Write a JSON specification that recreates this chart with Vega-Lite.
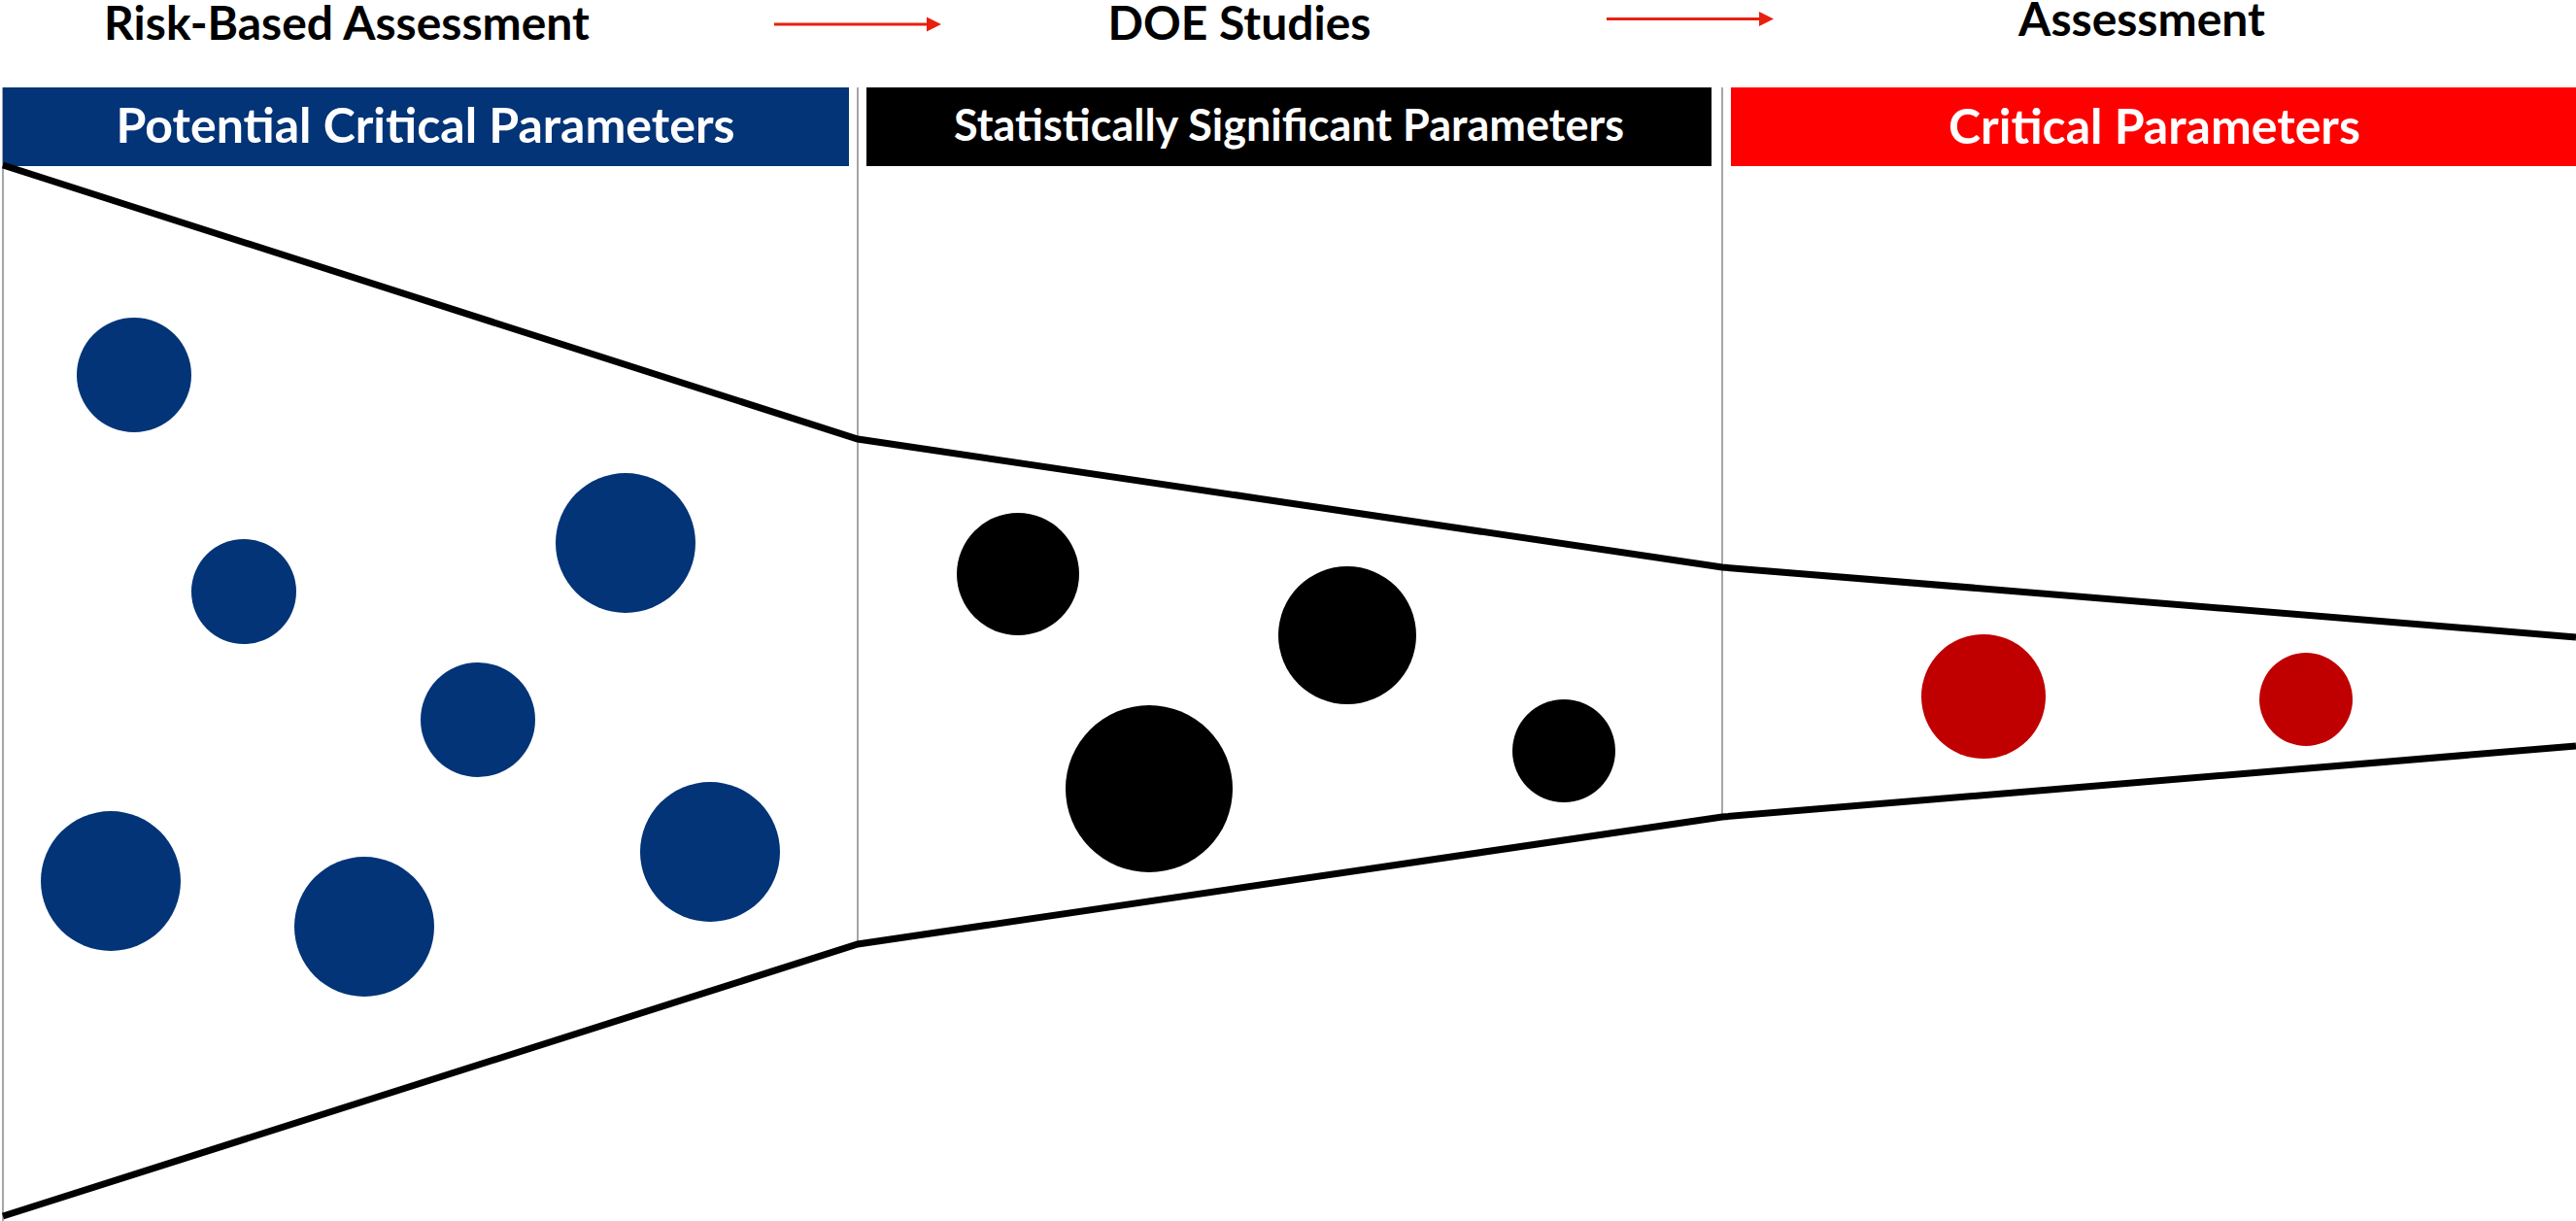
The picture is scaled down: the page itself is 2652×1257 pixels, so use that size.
{
  "$schema": "https://vega.github.io/schema/vega-lite/v6.json",
  "width": 2652,
  "height": 1257,
  "autosize": {"type": "none"},
  "padding": 0,
  "background": "white",
  "config": {"view": {"stroke": null}},
  "datasets": {
    "dividers": [
      {"x": 3, "y0": 90, "y1": 1257},
      {"x": 883, "y0": 90, "y1": 972},
      {"x": 1773, "y0": 90, "y1": 841}
    ],
    "stages": [
      {"stage": "Potential Critical Parameters", "x0": 3, "x1": 874, "cx": 438, "y0": 90, "y1": 171, "ty": 147},
      {"stage": "Statistically Significant Parameters", "x0": 892, "x1": 1762, "cx": 1327, "y0": 90, "y1": 171, "ty": 145},
      {"stage": "Critical Parameters", "x0": 1782, "x1": 2652, "cx": 2218, "y0": 90, "y1": 171, "ty": 148}
    ],
    "funnel": [
      {"edge": "top", "x": 3, "y": 170},
      {"edge": "top", "x": 883, "y": 452},
      {"edge": "top", "x": 1773, "y": 584},
      {"edge": "top", "x": 2652, "y": 656},
      {"edge": "bottom", "x": 3, "y": 1252},
      {"edge": "bottom", "x": 883, "y": 972},
      {"edge": "bottom", "x": 1773, "y": 841},
      {"edge": "bottom", "x": 2652, "y": 768}
    ],
    "parameters": [
      {"group": "potential", "x": 138, "y": 386, "r": 59},
      {"group": "potential", "x": 251, "y": 609, "r": 54},
      {"group": "potential", "x": 644, "y": 559, "r": 72},
      {"group": "potential", "x": 492, "y": 741, "r": 59},
      {"group": "potential", "x": 114, "y": 907, "r": 72},
      {"group": "potential", "x": 375, "y": 954, "r": 72},
      {"group": "potential", "x": 731, "y": 877, "r": 72},
      {"group": "significant", "x": 1048, "y": 591, "r": 63},
      {"group": "significant", "x": 1387, "y": 654, "r": 71},
      {"group": "significant", "x": 1183, "y": 812, "r": 86},
      {"group": "significant", "x": 1610, "y": 773, "r": 53},
      {"group": "critical", "x": 2042, "y": 717, "r": 64},
      {"group": "critical", "x": 2374, "y": 720, "r": 48}
    ],
    "arrows": [
      {"x0": 797, "x1": 956, "head": 961.5, "y": 25},
      {"x0": 1654, "x1": 1812, "head": 1818.5, "y": 19.5}
    ],
    "steps": [
      {"label": "Risk-Based Assessment", "x": 357, "y": 41},
      {"label": "DOE Studies", "x": 1276, "y": 41},
      {"label": "Assessment", "x": 2205, "y": 37}
    ]
  },
  "encoding": {
    "x": {"type": "quantitative", "scale": {"domain": [0, 2652], "nice": false, "zero": false}, "axis": null},
    "y": {"type": "quantitative", "scale": {"domain": [0, 1257], "nice": false, "zero": false, "reverse": true}, "axis": null}
  },
  "layer": [
    {
      "data": {"name": "dividers"},
      "mark": {"type": "rule", "stroke": "#A6A6A6", "strokeWidth": 2},
      "encoding": {
        "x": {"field": "x", "type": "quantitative"},
        "y": {"field": "y0", "type": "quantitative"},
        "y2": {"field": "y1"}
      }
    },
    {
      "data": {"name": "stages"},
      "mark": {"type": "rect"},
      "encoding": {
        "x": {"field": "x0", "type": "quantitative"},
        "x2": {"field": "x1"},
        "y": {"field": "y0", "type": "quantitative"},
        "y2": {"field": "y1"},
        "color": {
          "field": "stage",
          "type": "nominal",
          "scale": {
            "domain": ["Potential Critical Parameters", "Statistically Significant Parameters", "Critical Parameters"],
            "range": ["#023477", "#000000", "#FF0000"]
          },
          "legend": null
        }
      }
    },
    {
      "data": {"name": "stages"},
      "transform": [{"filter": "datum.stage !== 'Statistically Significant Parameters'"}],
      "mark": {"type": "text", "font": "Lato", "fontWeight": "bold", "fontSize": 50, "fill": "white", "align": "center", "baseline": "alphabetic"},
      "encoding": {
        "x": {"field": "cx", "type": "quantitative"},
        "y": {"field": "ty", "type": "quantitative"},
        "text": {"field": "stage"}
      }
    },
    {
      "data": {"name": "stages"},
      "transform": [{"filter": "datum.stage === 'Statistically Significant Parameters'"}],
      "mark": {"type": "text", "font": "Lato", "fontWeight": "bold", "fontSize": 45, "fill": "white", "align": "center", "baseline": "alphabetic"},
      "encoding": {
        "x": {"field": "cx", "type": "quantitative"},
        "y": {"field": "ty", "type": "quantitative"},
        "text": {"field": "stage"}
      }
    },
    {
      "data": {"name": "funnel"},
      "mark": {"type": "line", "stroke": "black", "strokeWidth": 7, "strokeJoin": "miter", "strokeCap": "butt"},
      "encoding": {
        "x": {"field": "x", "type": "quantitative"},
        "y": {"field": "y", "type": "quantitative"},
        "detail": {"field": "edge"},
        "order": {"field": "x", "type": "quantitative"}
      }
    },
    {
      "data": {"name": "parameters"},
      "mark": {"type": "point", "shape": "circle", "filled": true, "opacity": 1, "strokeWidth": 0},
      "encoding": {
        "x": {"field": "x", "type": "quantitative"},
        "y": {"field": "y", "type": "quantitative"},
        "size": {
          "field": "r",
          "type": "quantitative",
          "scale": {"type": "pow", "exponent": 2, "domain": [0, 100], "range": [0, 40000], "zero": true},
          "legend": null
        },
        "color": {
          "field": "group",
          "type": "nominal",
          "scale": {"domain": ["potential", "significant", "critical"], "range": ["#023477", "#000000", "#C00000"]},
          "legend": null
        }
      }
    },
    {
      "data": {"name": "arrows"},
      "mark": {"type": "rule", "stroke": "#E8200E", "strokeWidth": 3},
      "encoding": {
        "x": {"field": "x0", "type": "quantitative"},
        "x2": {"field": "x1"},
        "y": {"field": "y", "type": "quantitative"}
      }
    },
    {
      "data": {"name": "arrows"},
      "mark": {"type": "point", "shape": "M-1,-1L1,0L-1,1Z", "filled": true, "fill": "#E8200E", "opacity": 1, "size": 225, "strokeWidth": 0},
      "encoding": {
        "x": {"field": "head", "type": "quantitative"},
        "y": {"field": "y", "type": "quantitative"}
      }
    },
    {
      "data": {"name": "steps"},
      "mark": {"type": "text", "font": "Lato", "fontWeight": "bold", "fontSize": 48, "fill": "black", "align": "center", "baseline": "alphabetic"},
      "encoding": {
        "x": {"field": "x", "type": "quantitative"},
        "y": {"field": "y", "type": "quantitative"},
        "text": {"field": "label"}
      }
    }
  ],
  "resolve": {"scale": {"color": "independent"}}
}
